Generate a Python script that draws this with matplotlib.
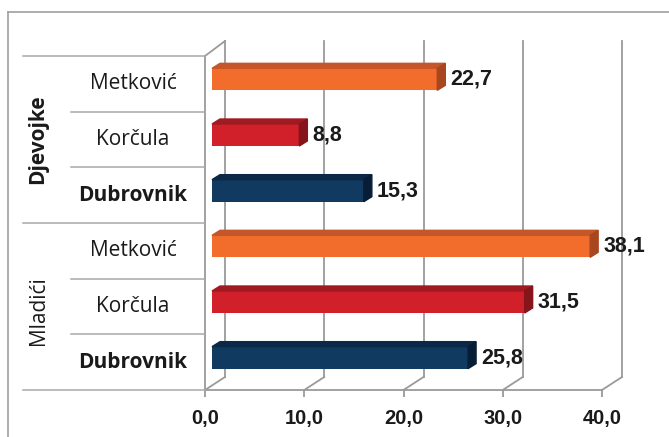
import matplotlib
matplotlib.use("Agg")
import matplotlib.pyplot as plt
from matplotlib.patches import Polygon
from matplotlib.lines import Line2D

# data (bottom row first)
groups = ["Mladići", "Djevojke"]
towns = ["Dubrovnik", "Korčula", "Metković"]
mladici = [25.8, 31.5, 38.1]
djevojke = [15.3, 8.8, 22.7]
ticks = [0, 10, 20, 30, 40]
tick_labels = ["0,0", "10,0", "20,0", "30,0", "40,0"]

front = {"Dubrovnik": "#113a60", "Korčula": "#d2202a", "Metković": "#f26d2c"}
top = {"Dubrovnik": "#0b2846", "Korčula": "#a01b21", "Metković": "#c5562a"}
side = {"Dubrovnik": "#071d35", "Korčula": "#85151a", "Metković": "#a8461f"}

W, H = 669, 437
fig = plt.figure(figsize=(W / 100, H / 100), dpi=100)
# front plane of the pseudo-3D plot: x 205..602 px, y 56..390 px (from top)
ax = fig.add_axes([205 / W, (H - 390) / H, 397 / W, 334 / H])
ax.set_xlim(0, 40)
ax.set_ylim(-0.5, 5.5)
for s in ax.spines.values():
    s.set_visible(False)
ax.set_yticks([])

px = 40 / 397  # data per pixel, x
py = 6 / 334   # data per pixel, y
grid_c = "#9a9a9a"

def line(xs, ys, **kw):
    kw.setdefault("color", grid_c)
    kw.setdefault("lw", 1.3)
    ax.add_line(Line2D(xs, ys, clip_on=False, **kw))

# back wall, floor, left wall
dx, dy = 20 * px, 13 * py
for v in ticks:
    line([v + dx, v + dx], [-0.5 + dy, 5.5 + 15 * py])
    line([v, v + dx], [-0.5, -0.5 + dy])
line([0, 40], [-0.5, -0.5])
line([0, 0], [-0.5, 5.5])
line([0, dx], [5.5, 5.5 + 15 * py])

# category table lines at the left
for i in range(7):
    yb = i - 0.5
    x0 = -182 * px if i in (0, 3, 6) else -134 * px
    line([x0, 0], [yb, yb], color="#a8a8a8", lw=1.1)

# bars with a little depth
sx, sy = 7 * px, 4.5 * py
bx, by = 8 * px, 5 * py
bh = 0.395
rows = []
for g, vals in zip(groups, [mladici, djevojke]):
    for t, v in zip(towns, vals):
        rows.append((g, t, v))

for i, (g, t, v) in enumerate(rows):
    yc = i + sy
    ax.barh(yc, v, left=sx, height=bh, color=front[t], zorder=3)
    y0, y1 = yc - bh / 2, yc + bh / 2
    x0, x1 = sx, sx + v
    ax.add_patch(Polygon([(x0, y1), (x1, y1), (x1 + bx, y1 + by), (x0 + bx, y1 + by)],
                         closed=True, color=top[t], zorder=3, clip_on=False))
    ax.add_patch(Polygon([(x1, y0), (x1 + bx, y0 + by), (x1 + bx, y1 + by), (x1, y1)],
                         closed=True, color=side[t], zorder=3, clip_on=False))
    ax.text(x1 + bx + 5 * px, yc, f"{v:.1f}".replace(".", ","), ha="left", va="center",
            fontsize=15.5, fontweight="bold", family="Liberation Sans", color="#1a1a1a",
            clip_on=False)
    ax.text(-72 * px, i, t, ha="center", va="center", fontsize=15, family="Open Sans",
            fontweight="bold" if t == "Dubrovnik" else "normal", color="#1a1a1a")

for k, g in enumerate(groups):
    ax.text(-167 * px, 3 * k + 1 - (0.08 if k == 0 else 0), g, ha="center", va="center",
            rotation=90, fontsize=15, family="Open Sans",
            fontweight="bold" if g == "Djevojke" else "normal", color="#1a1a1a")

ax.set_xticks(ticks)
ax.set_xticklabels(tick_labels, fontsize=14.5, fontweight="bold", family="Liberation Sans",
                   color="#1a1a1a")
ax.tick_params(axis="x", length=5, width=1.3, color=grid_c, pad=9)

# outer frame (left and top only visible)
fig.add_artist(Line2D([8 / W, 8 / W], [0, 1 - 12 / H], transform=fig.transFigure,
                      color="#a0a0a0", lw=1.2))
fig.add_artist(Line2D([8 / W, 1], [1 - 12 / H, 1 - 12 / H], transform=fig.transFigure,
                      color="#a0a0a0", lw=1.2))

fig.savefig("out.png", dpi=100)
